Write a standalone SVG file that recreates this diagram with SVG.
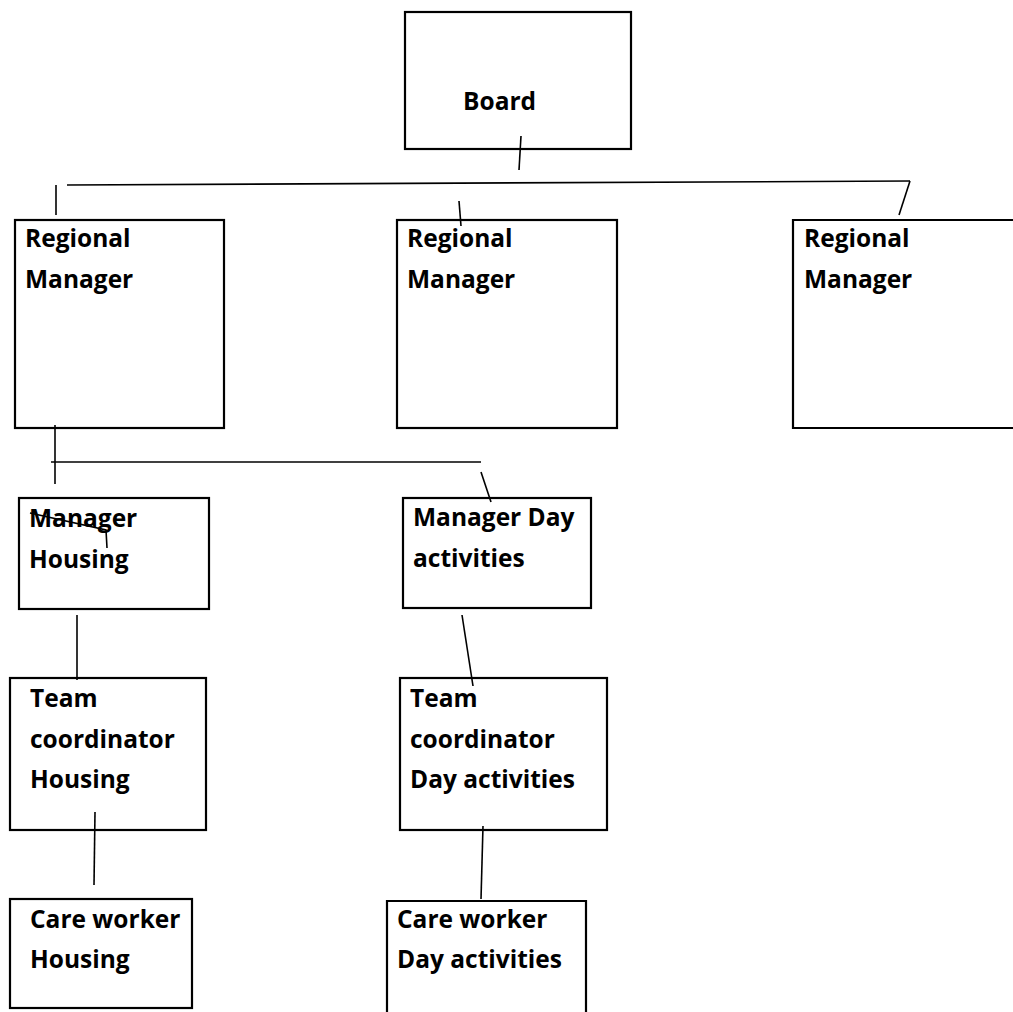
<svg xmlns="http://www.w3.org/2000/svg" width="1013" height="1012" viewBox="0 0 1013 1012">
<style>
.box{fill:#fff;stroke:#000;stroke-width:2.2}
.open{fill:none;stroke:#000;stroke-width:2.2}
.lbl{font-family:"Open Sans","Liberation Sans",sans-serif;font-weight:bold;font-size:24.5px;fill:#000}
.con{fill:none;stroke:#000;stroke-width:1.6}
</style>
<rect width="1013" height="1012" fill="#fff"/>
<g id="board"><rect class="box" x="405" y="12" width="226" height="137"/><text class="lbl" x="463" y="110">Board</text></g>
<g id="rm1"><rect class="box" x="15" y="220" width="209" height="208"/><text class="lbl" x="25" y="247">Regional</text><text class="lbl" x="25" y="288">Manager</text></g>
<g id="rm2"><rect class="box" x="397" y="220" width="220" height="208"/><text class="lbl" x="407" y="247">Regional</text><text class="lbl" x="407" y="288">Manager</text></g>
<g id="rm3"><path class="open" d="M1020,220 H793 V428 H1020"/><text class="lbl" x="804" y="247">Regional</text><text class="lbl" x="804" y="288">Manager</text></g>
<g id="mh"><rect class="box" x="19" y="498" width="190" height="111"/><text class="lbl" x="29" y="527">Manager</text><text class="lbl" x="29" y="568">Housing</text></g>
<g id="mda"><rect class="box" x="403" y="498" width="188" height="110"/><text class="lbl" x="413" y="526">Manager Day</text><text class="lbl" x="413" y="567">activities</text></g>
<g id="tch"><rect class="box" x="10" y="678" width="196" height="152"/><text class="lbl" x="30" y="707">Team</text><text class="lbl" x="30" y="748">coordinator</text><text class="lbl" x="30" y="788">Housing</text></g>
<g id="tcda"><rect class="box" x="400" y="678" width="207" height="152"/><text class="lbl" x="410" y="707">Team</text><text class="lbl" x="410" y="748">coordinator</text><text class="lbl" x="410" y="788">Day activities</text></g>
<g id="cwh"><rect class="box" x="10" y="899" width="182" height="109"/><text class="lbl" x="30" y="928">Care worker</text><text class="lbl" x="30" y="968">Housing</text></g>
<g id="cwda"><path class="open" d="M387,1015 V901 H586 V1015"/><text class="lbl" x="397" y="928">Care worker</text><text class="lbl" x="397" y="968">Day activities</text></g>
<g id="connectors">
<line class="con" x1="521" y1="136" x2="519" y2="170"/>
<line class="con" x1="67" y1="185" x2="910" y2="181"/>
<line class="con" x1="56" y1="185" x2="56" y2="215"/>
<line class="con" x1="459" y1="201" x2="461" y2="226"/>
<line class="con" x1="910" y1="181" x2="899" y2="215"/>
<line class="con" x1="55" y1="425" x2="55" y2="484"/>
<line class="con" x1="51" y1="462" x2="481" y2="462"/>
<line class="con" x1="481" y1="472" x2="491" y2="502"/>
<polyline class="con" points="30,513 106,530 107,548"/>
<line class="con" x1="77" y1="615" x2="77" y2="680"/>
<line class="con" x1="95" y1="812" x2="94" y2="885"/>
<line class="con" x1="462" y1="615" x2="473" y2="686"/>
<line class="con" x1="483" y1="826" x2="481" y2="899"/>
</g>
</svg>
